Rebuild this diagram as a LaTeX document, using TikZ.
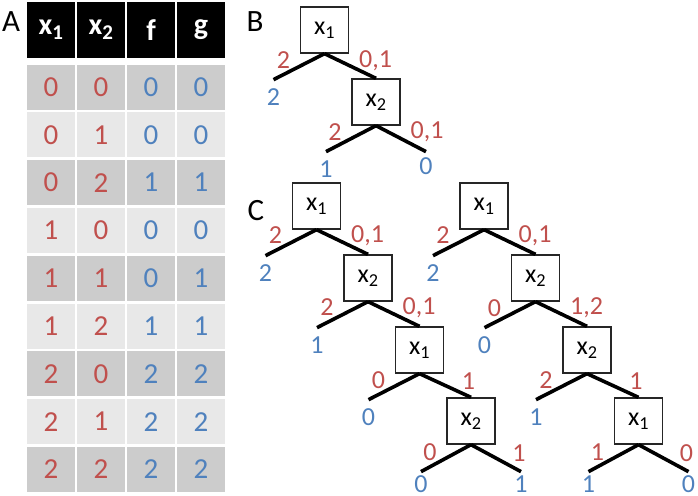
\documentclass[tikz,border=0pt]{standalone}
\usepackage{fontspec}
\setmainfont{Carlito}
\usetikzlibrary{positioning,calc}
\definecolor{colorIN}{HTML}{C0504D}
\definecolor{colorOUT}{HTML}{4F81BD}
\definecolor{rowdk}{HTML}{CCCCCC}
\definecolor{rowlt}{HTML}{E8E8E8}
\newcommand{\fsz}[1]{\fontsize{#1}{#1}\selectfont}
\newcommand{\xv}[1]{x\textsubscript{#1}}
\tikzset{
   head/.style={fill=black,text=white,minimum width=48pt,minimum height=56pt,inner sep=0pt,font=\fsz{30}\bfseries},
   cell/.style={minimum width=48pt,minimum height=45pt,inner sep=0pt,font=\fsz{29}},
   panel/.style={font=\fsz{31}},
   dnode/.style={draw=black!85,line width=1.3pt,minimum width=48pt,minimum height=46pt,inner sep=0pt,font=\fsz{26}},
   branch/.style={line width=3.6pt,black},
   inlab/.style={text=colorIN,font=\fsz{26},inner sep=0pt},
   outlab/.style={text=colorOUT,font=\fsz{26},inner sep=0pt},
}

\begin{document}
\begin{tikzpicture}[x=1pt,y=-1pt]
      \useasboundingbox (0,0) rectangle (698,495);
      % table
      \node[panel] (la) at (11,22) {A};
      \node[head] (h1) at (51,30) {\xv{1}};
      \node[head] (h2) at (101,30) {\xv{2}};
      \node[head] (h3) at (151,30) {f};
      \node[head] (h4) at (201,30) {g};
      \foreach \s/\a/\b/\f/\g [count=\r] in {dk/0/0/0/0, lt/0/1/0/0, dk/0/2/1/1,
            lt/1/0/0/0, dk/1/1/0/1, lt/1/2/1/1, dk/2/0/2/2, lt/2/1/2/2, dk/2/2/2/2} {
         \node[cell,fill=row\s,text=colorIN] (c\r a) at (51,{87+(\r-1)*47.8}) {\a};
         \node[cell,fill=row\s,text=colorIN] (c\r b) at (101,{87+(\r-1)*47.8}) {\b};
         \node[cell,fill=row\s,text=colorOUT] (c\r f) at (151,{87+(\r-1)*47.8}) {\f};
         \node[cell,fill=row\s,text=colorOUT] (c\r g) at (201,{87+(\r-1)*47.8}) {\g};
      }
      % tree B
      \node[panel] (lb) at (255,22) {B};
      \node[dnode] (b1) at (324.5,30) {\xv{1}};
      \node[dnode] (b2) at (376,102) {\xv{2}};
      \coordinate (b1l) at ([shift={(-51,26)}]b1.south);
      \coordinate (b2l) at ([shift={(-50,26)}]b2.south);
      \coordinate (b2r) at ([shift={(50,26)}]b2.south);
      \draw[branch] (b1.south) -- (b1l);
      \draw[branch] (b1.south) -- (b2.north);
      \draw[branch] (b2.south) -- (b2l);
      \draw[branch] (b2.south) -- (b2r);
      \node[inlab] at ([shift={(-41,6)}]b1.south) {2};
      \node[inlab] at ([shift={(51,7)}]b1.south) {0,1};
      \node[inlab] at ([shift={(-41,6)}]b2.south) {2};
      \node[inlab] at ([shift={(51,6)}]b2.south) {0,1};
      \node[outlab] at ([shift={(0,17)}]b1l) {2};
      \node[outlab] at ([shift={(0,17)}]b2l) {1};
      \node[outlab] at ([shift={(0,15)}]b2r) {0};
      % tree C, left
      \node[panel] (lc) at (256,211) {C};
      \node[dnode] (l1) at (316.5,206) {\xv{1}};
      \node[dnode] (l2) at (368,278) {\xv{2}};
      \node[dnode] (l3) at (419.5,350) {\xv{1}};
      \node[dnode] (l4) at (471,421) {\xv{2}};
      \coordinate (l1l) at ([shift={(-51,26)}]l1.south);
      \coordinate (l2l) at ([shift={(-51,26)}]l2.south);
      \coordinate (l3l) at ([shift={(-51,26)}]l3.south);
      \coordinate (l4l) at ([shift={(-50,27)}]l4.south);
      \coordinate (l4r) at ([shift={(50,27)}]l4.south);
      \draw[branch] (l1.south) -- (l1l);
      \draw[branch] (l1.south) -- (l2.north);
      \draw[branch] (l2.south) -- (l2l);
      \draw[branch] (l2.south) -- (l3.north);
      \draw[branch] (l3.south) -- (l3l);
      \draw[branch] (l3.south) -- (l4.north);
      \draw[branch] (l4.south) -- (l4l);
      \draw[branch] (l4.south) -- (l4r);
      \node[inlab] at ([shift={(-41,5)}]l1.south) {2};
      \node[inlab] at ([shift={(51,6)}]l1.south) {0,1};
      \node[inlab] at ([shift={(-41,5)}]l2.south) {2};
      \node[inlab] at ([shift={(51,6)}]l2.south) {0,1};
      \node[inlab] at ([shift={(-41,6)}]l3.south) {0};
      \node[inlab] at ([shift={(49,7)}]l3.south) {1};
      \node[inlab] at ([shift={(-41,7)}]l4.south) {0};
      \node[inlab] at ([shift={(48,8)}]l4.south) {1};
      \node[outlab] at ([shift={(0,17)}]l1l) {2};
      \node[outlab] at ([shift={(0,17)}]l2l) {1};
      \node[outlab] at ([shift={(0,17)}]l3l) {0};
      \node[outlab] at ([shift={(0,12)}]l4l) {0};
      \node[outlab] at ([shift={(0,12)}]l4r) {1};
      % tree C, right
      \node[dnode] (r1) at (484,206) {\xv{1}};
      \node[dnode] (r2) at (535.5,278) {\xv{2}};
      \node[dnode] (r3) at (587,350) {\xv{2}};
      \node[dnode] (r4) at (638.5,421) {\xv{1}};
      \coordinate (r1l) at ([shift={(-51,26)}]r1.south);
      \coordinate (r2l) at ([shift={(-51,26)}]r2.south);
      \coordinate (r3l) at ([shift={(-51,26)}]r3.south);
      \coordinate (r4l) at ([shift={(-50,27)}]r4.south);
      \coordinate (r4r) at ([shift={(50,27)}]r4.south);
      \draw[branch] (r1.south) -- (r1l);
      \draw[branch] (r1.south) -- (r2.north);
      \draw[branch] (r2.south) -- (r2l);
      \draw[branch] (r2.south) -- (r3.north);
      \draw[branch] (r3.south) -- (r3l);
      \draw[branch] (r3.south) -- (r4.north);
      \draw[branch] (r4.south) -- (r4l);
      \draw[branch] (r4.south) -- (r4r);
      \node[inlab] at ([shift={(-41,5)}]r1.south) {2};
      \node[inlab] at ([shift={(51,6)}]r1.south) {0,1};
      \node[inlab] at ([shift={(-41,6)}]r2.south) {0};
      \node[inlab] at ([shift={(51,6)}]r2.south) {1,2};
      \node[inlab] at ([shift={(-41,6)}]r3.south) {2};
      \node[inlab] at ([shift={(49,7)}]r3.south) {1};
      \node[inlab] at ([shift={(-41,7)}]r4.south) {1};
      \node[inlab] at ([shift={(48,8)}]r4.south) {0};
      \node[outlab] at ([shift={(0,17)}]r1l) {2};
      \node[outlab] at ([shift={(0,17)}]r2l) {0};
      \node[outlab] at ([shift={(0,17)}]r3l) {1};
      \node[outlab] at ([shift={(0,12)}]r4l) {1};
      \node[outlab] at ([shift={(0,12)}]r4r) {0};
    \end{tikzpicture}
\end{document}
